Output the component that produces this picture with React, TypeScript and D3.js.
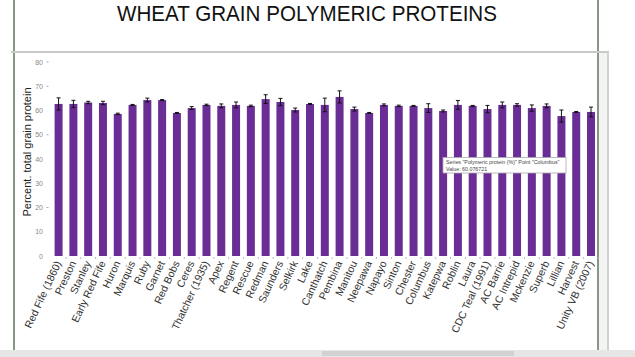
import React from "react";
import * as d3 from "d3";

const categories = [
  "Red Fife (1860)", "Preston", "Stanley", "Early Red Fife", "Huron", "Marquis",
  "Ruby", "Garnet", "Red Bobs", "Ceres", "Thatcher (1935)", "Apex", "Regent",
  "Rescue", "Redman", "Saunders", "Selkirk", "Lake", "Canthatch", "Pembina",
  "Manitou", "Neepawa", "Napayo", "Sinton", "Chester", "Columbus", "Katepwa",
  "Roblin", "Laura", "CDC Teal (1991)", "AC Barrie", "AC Intrepid", "Mckenzie",
  "Superb", "Lillian", "Harvest", "Unity VB (2007)",
];

const values = [
  62.7, 62.7, 63.3, 63.1, 58.6, 62.3, 64.3, 64.3, 59.0, 61.0, 62.3, 61.9, 62.3,
  61.9, 64.7, 63.5, 60.2, 62.7, 62.3, 65.6, 60.6, 59.0, 62.3, 61.9, 61.9, 61.0,
  59.8, 62.3, 61.9, 60.6, 62.3, 62.3, 61.0, 61.9, 57.7, 59.4, 59.4,
];

const errors = [
  2.5, 1.5, 0.5, 0.7, 0.3, 0.2, 0.8, 0.2, 0.2, 0.6, 0.3, 0.8, 1.2,
  0.3, 1.8, 1.5, 0.8, 0.2, 2.8, 2.5, 0.8, 0.2, 0.4, 0.3, 0.2, 1.8,
  0.4, 1.8, 0.2, 1.5, 1.2, 0.5, 1.3, 0.8, 2.5, 0.2, 2.0,
];

const yTicks = [0, 10, 20, 30, 40, 50, 60, 70, 80];

const title = "WHEAT GRAIN POLYMERIC PROTEINS";
const yLabel = "Percent. total grain protein";
const tooltipLines = ['Series "Polymeric protein (%)" Point "Columbus"', "Value: 60.076721"];

export default function App() {
  const W = 635, H = 357;
  const x = d3.scaleBand<string>().domain(categories).range([51.2, 598.4]).paddingInner(0.46).paddingOuter(0.23);
  const y = d3.scaleLinear().domain([0, 80]).range([256, 62]);
  const bw = x.bandwidth();
  const font = "'Liberation Sans', Arial, sans-serif";

  return (
    <svg width={W} height={H} style={{ position: "absolute", left: 0, top: 0, background: "#fff" }} fontFamily={font}>
      <rect x={0} y={0} width={W} height={H} fill="#fff" />
      {/* slide border lines */}
      <line x1={14} y1={0} x2={14} y2={350} stroke="#5d735d" strokeWidth={1.5} />
      <line x1={598} y1={0} x2={598} y2={350} stroke="#5d735d" strokeWidth={1.5} />
      <text x={307} y={21} textAnchor="middle" fontSize={22} fill="#111" textLength={380} lengthAdjust="spacingAndGlyphs">{title}</text>

      {/* chart box */}
      <line x1={11} y1={52} x2={609} y2={52} stroke="#c8c8c8" strokeWidth={2} />
      <line x1={608} y1={52} x2={608} y2={350} stroke="#d0d0d0" strokeWidth={2} />
      <rect x={599} y={53} width={8} height={297} fill="#f4f4f4" />
      <rect x={0} y={350} width={W} height={7} fill="#e6e6e6" />
      <rect x={322} y={351} width={192} height={5} fill="#d2d2d2" />

      {/* y axis */}
      {yTicks.map((t) => (
        <g key={t}>
          <text x={43} y={y(t) + 2.5} textAnchor="end" fontSize={7} fill="#888">{t}</text>
          {t % 30 === 20 || t === 80 || t === 70 ? (
            <line x1={46.5} x2={48.5} y1={y(t)} y2={y(t)} stroke="#999" strokeWidth={0.8} />
          ) : null}
        </g>
      ))}
      <text transform="translate(31,152) rotate(-90)" textAnchor="middle" fontSize={11} fill="#222">{yLabel}</text>

      {/* bars */}
      {categories.map((c, i) => {
        const bx = x(c)!;
        const cx = bx + bw / 2;
        const v = values[i];
        const e = errors[i];
        return (
          <g key={c}>
            <rect x={bx} y={y(v)} width={bw} height={y(0) - y(v)} fill="#6a2d95" />
            <line x1={cx} x2={cx} y1={y(v + e)} y2={y(v - e)} stroke="#111" strokeWidth={1} />
            <line x1={cx - 2} x2={cx + 2} y1={y(v + e)} y2={y(v + e)} stroke="#111" strokeWidth={1} />
            <line x1={cx - 2} x2={cx + 2} y1={y(v - e)} y2={y(v - e)} stroke="#111" strokeWidth={1} />
          </g>
        );
      })}
      {/* x tick marks */}
      {categories.map((c) => {
        const tx = x(c)! + bw + (x.step() - bw) / 2;
        return <line key={"t" + c} x1={tx} x2={tx} y1={257} y2={259} stroke="#aaa" strokeWidth={0.8} />;
      })}
      {/* x labels */}
      {categories.map((c) => {
        const cx = x(c)! + bw / 2 + 3;
        return (
          <text key={"l" + c} transform={`translate(${cx},263) rotate(-65)`} textAnchor="end" fontSize={10.5} fill="#333">{c}</text>
        );
      })}

      {/* tooltip */}
      <rect x={443} y={157.5} width={123} height={15.5} fill="#fff" stroke="#aaa" strokeWidth={0.8} />
      <text x={446} y={164} fontSize={5.3} fill="#444">{tooltipLines[0]}</text>
      <text x={446} y={170.5} fontSize={5.3} fill="#444">{tooltipLines[1]}</text>
    </svg>
  );
}
